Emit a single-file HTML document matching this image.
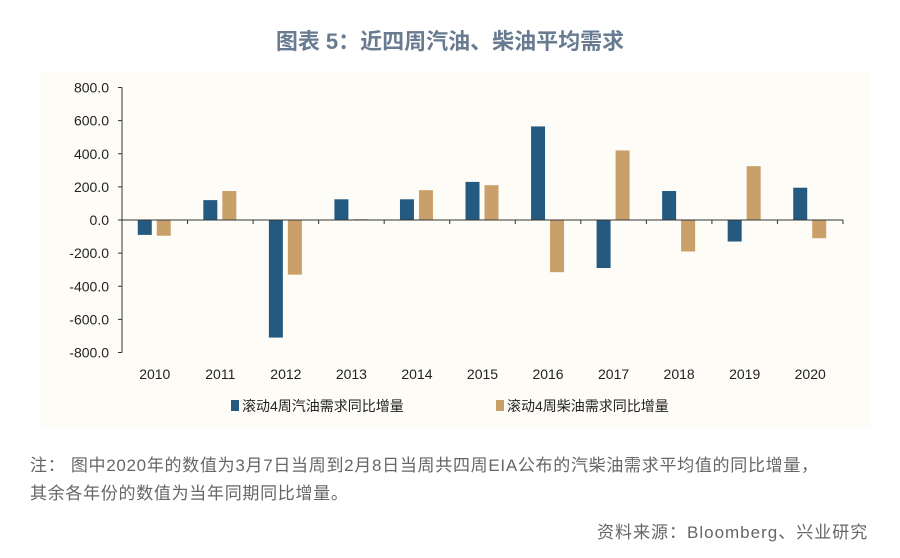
<!DOCTYPE html>
<html><head><meta charset="utf-8"><style>
body{margin:0;width:900px;height:558px;background:#fff;font-family:"Liberation Sans","Noto Sans CJK SC",sans-serif;position:relative;overflow:hidden}
.t{position:absolute;left:0;width:900px;top:24px;text-align:center;font-size:22px;color:#687b90;font-weight:bold}
.n{position:absolute;left:30px;font-size:17px;letter-spacing:0.7px;color:#666;line-height:20px}
</style></head><body>
<div class="t">图表 5：近四周汽油、柴油平均需求</div>
<svg id="c" width="900" height="558" style="position:absolute;left:0;top:0">
<rect x="40" y="72" width="830" height="356" fill="#fefcf6"/>
</svg>
<div class="n" style="top:456px">注：&nbsp;图中2020年的数值为3月7日当周到2月8日当周共四周EIA公布的汽柴油需求平均值的同比增量，</div>
<div class="n" style="top:484px">其余各年份的数值为当年同期同比增量。</div>
<div class="n" style="top:523px;left:597px;letter-spacing:1px">资料来源：Bloomberg、兴业研究</div>
<script>
const categories=["2010","2011","2012","2013","2014","2015","2016","2017","2018","2019","2020"];
const gasoline=[-90,120,-710,125,125,230,565,-290,175,-130,195];
const diesel=[-95,175,-330,5,180,210,-315,420,-190,325,-110];
const ticks=[800,600,400,200,0,-200,-400,-600,-800];
const NS="http://www.w3.org/2000/svg",svg=document.getElementById('c');
const x0=122,x1=843,bw=(x1-x0)/categories.length;
const y=v=>220-v*(132.5/800);
function mk(t,a,txt){const e=document.createElementNS(NS,t);for(const k in a)e.setAttribute(k,a[k]);if(txt!=null)e.textContent=txt;svg.appendChild(e);return e;}
let e=mk('line',{x1:x0,x2:x0,y1:y(800),y2:y(-800),stroke:'#333'});


ticks.forEach(t=>{
 let l=mk('line',{x1:x0-4,x2:x0,y1:y(t),y2:y(t),stroke:'#333'});
 
 
 let s=mk('text',{x:x0-13,y:y(t)+5,'text-anchor':'end','font-size':14,fill:'#222'},t.toFixed(1));
 
 
});
categories.forEach((c,i)=>{
 const cx=x0+bw*(i+0.5);
 let tk=mk('line',{x1:x0+bw*(i+1),x2:x0+bw*(i+1),y1:y(0),y2:y(0)+4,stroke:'#333'});
 
 
 let g=gasoline[i],d=diesel[i];
 let b=mk('rect',{x:cx-17,width:14,y:Math.min(y(g),y(0)),height:Math.abs(y(g)-y(0)),fill:'#245a80'});
 
 
 let b2=mk('rect',{x:cx+2,width:14,y:Math.min(y(d),y(0)),height:Math.max(1,Math.abs(y(d)-y(0))),fill:'#c9a06a'});
 
 
 let s=mk('text',{x:cx,y:379,'text-anchor':'middle','font-size':14,fill:'#222'},c);
 
 
});
e=mk('line',{x1:x0,x2:x1,y1:y(0),y2:y(0),stroke:'#333'});


[[231,'#245a80','滚动4周汽油需求同比增量','legend-gasoline'],[496,'#c9a06a','滚动4周柴油需求同比增量','legend-diesel']].forEach(([lx,col,txt,nm])=>{
 let r=mk('rect',{x:lx,y:400,width:8,height:11,fill:col});
 
 
 let s=mk('text',{x:lx+11,y:411,'font-size':14,fill:'#222'},txt);
 
 
});
</script>
</body></html>
